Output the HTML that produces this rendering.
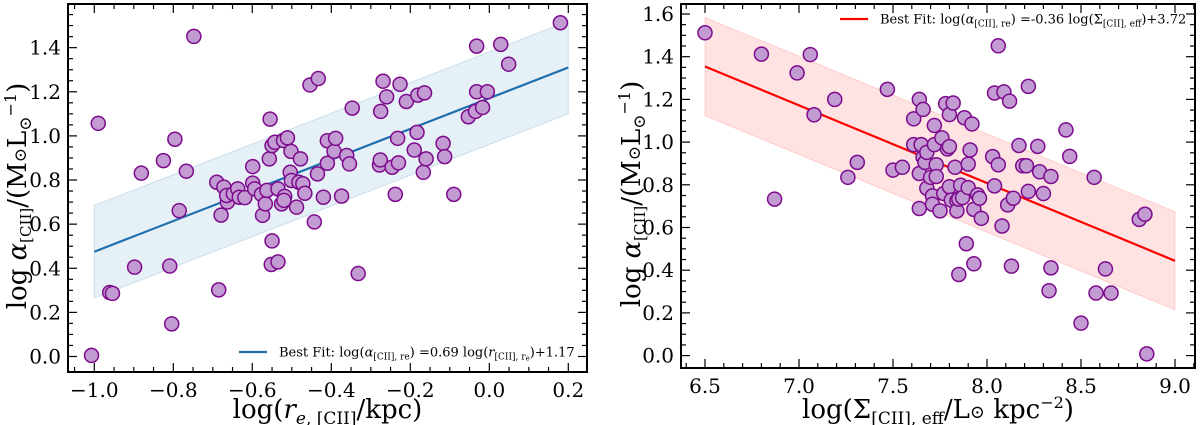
<!DOCTYPE html>
<html><head><meta charset="utf-8"><style>
html,body{margin:0;padding:0;background:#fff;}
svg{display:block;font-family:"DejaVu Serif","Liberation Serif",serif;}
</style></head><body>
<svg id="chart" width="1200" height="425" viewBox="0 0 1200 425" xmlns="http://www.w3.org/2000/svg"></svg>
<script>
// Left panel data
const leftX=[-1.007,-0.99,-0.961,-0.954,-0.898,-0.881,-0.825,-0.809,-0.804,-0.796,-0.785,-0.767,-0.748,-0.69,-0.685,-0.679,-0.672,-0.663,-0.665,-0.648,-0.637,-0.633,-0.619,-0.599,-0.599,-0.594,-0.577,-0.574,-0.567,-0.563,-0.557,-0.555,-0.55,-0.543,-0.55,-0.552,-0.535,-0.535,-0.521,-0.511,-0.526,-0.518,-0.52,-0.504,-0.502,-0.501,-0.488,-0.478,-0.482,-0.472,-0.467,-0.454,-0.443,-0.435,-0.433,-0.42,-0.41,-0.41,-0.393,-0.389,-0.374,-0.361,-0.354,-0.347,-0.332,-0.278,-0.276,-0.275,-0.269,-0.26,-0.246,-0.238,-0.232,-0.23,-0.226,-0.21,-0.19,-0.183,-0.181,-0.164,-0.167,-0.16,-0.117,-0.113,-0.09,-0.053,-0.035,-0.032,-0.032,-0.017,-0.005,0.029,0.049,0.18];
const leftY=[0.005,1.057,0.29,0.286,0.405,0.831,0.888,0.41,0.148,0.985,0.661,0.84,1.451,0.79,0.302,0.641,0.768,0.70,0.73,0.738,0.76,0.722,0.72,0.861,0.786,0.76,0.735,0.64,0.692,0.753,0.896,1.076,0.956,0.971,0.524,0.417,0.429,0.76,0.979,0.991,0.692,0.726,0.708,0.835,0.93,0.798,0.677,0.896,0.79,0.783,0.74,1.231,0.61,0.828,1.26,0.722,0.978,0.876,0.93,0.989,0.727,0.911,0.873,1.126,0.376,0.868,0.891,1.111,1.248,1.177,0.858,0.735,0.989,0.878,1.234,1.156,0.936,1.016,1.185,1.195,0.835,0.896,0.966,0.906,0.735,1.087,1.111,1.407,1.20,1.129,1.20,1.415,1.325,1.513];
const leftFit=[0.696,1.171,0.21]; // slope, intercept, band half-width
const leftXTicks=[-1.0,-0.8,-0.6,-0.4,-0.2,0.0,0.2];
const leftYTicks=[0.0,0.2,0.4,0.6,0.8,1.0,1.2,1.4];
// Right panel data
const rightX=[6.50,6.80,7.06,6.99,7.08,7.19,6.87,7.26,7.31,7.47,7.50,7.55,7.61,7.64,7.66,7.61,7.65,7.64,7.64,7.66,7.67,7.68,7.68,7.71,7.71,7.70,7.72,7.72,7.73,7.73,7.75,7.76,7.77,7.78,7.79,7.80,7.80,7.80,7.82,7.81,7.83,7.84,7.84,7.85,7.85,7.86,7.87,7.88,7.89,7.90,7.90,7.91,7.92,7.93,7.93,7.95,7.96,7.97,8.03,8.04,8.04,8.06,8.06,8.08,8.09,8.11,8.12,8.13,8.14,8.17,8.19,8.21,8.22,8.22,8.27,8.28,8.30,8.33,8.34,8.34,8.42,8.44,8.50,8.57,8.58,8.63,8.66,8.81,8.84,8.85];
const rightY=[1.512,1.412,1.41,1.324,1.128,1.2,0.733,0.835,0.905,1.247,0.869,0.882,1.109,1.2,1.153,0.988,0.988,0.853,0.689,0.929,0.905,0.952,0.784,0.748,0.709,0.835,1.078,0.988,0.894,0.839,0.678,1.02,0.759,1.18,0.968,1.129,0.791,0.979,1.183,0.728,0.882,0.725,0.678,0.733,0.38,0.798,0.74,1.114,0.524,0.787,0.897,0.963,1.085,0.685,0.43,0.753,0.737,0.643,0.932,0.795,1.23,1.451,0.894,0.607,1.235,0.706,1.192,0.419,0.737,0.984,0.889,0.889,0.769,1.261,0.98,0.861,0.759,0.304,0.411,0.839,1.057,0.933,0.152,0.835,0.293,0.406,0.293,0.638,0.662,0.008];
const rightFit=[-0.364,3.72,0.23];
const rightXTicks=[6.5,7.0,7.5,8.0,8.5,9.0];
const rightYTicks=[0.0,0.2,0.4,0.6,0.8,1.0,1.2,1.4,1.6];

const NS="http://www.w3.org/2000/svg";
const svg=document.getElementById('chart');
function mk(tag,attrs,parent){const e=document.createElementNS(NS,tag);for(const k in attrs)e.setAttribute(k,attrs[k]);(parent||svg).appendChild(e);return e;}

function panel(cfg){
  const g=mk('g',{});
  
  
  const sx=v=>cfg.x0px+(v-cfg.x0)*cfg.xs;
  const sy=v=>cfg.y0px-v*cfg.ys;
  const L=cfg.L,R=cfg.R,T=cfg.T,B=cfg.B;
  const [m,b,w]=cfg.fit;const xa=cfg.fx[0],xb=cfg.fx[1];
  const band=mk('polygon',{points:`${sx(xa)},${sy(m*xa+b+w)} ${sx(xb)},${sy(m*xb+b+w)} ${sx(xb)},${sy(m*xb+b-w)} ${sx(xa)},${sy(m*xa+b-w)}`,fill:cfg.bandFill,stroke:cfg.bandStroke,'stroke-width':1},g);
  
  
  const ln=mk('line',{x1:sx(xa),y1:sy(m*xa+b),x2:sx(xb),y2:sy(m*xb+b),stroke:cfg.lineColor,'stroke-width':2.2},g);
  
  
  for(let i=0;i<cfg.xs_.length;i++){
    const c=mk('circle',{cx:sx(cfg.xs_[i]),cy:sy(cfg.ys_[i]),r:7,fill:'#c39bd3',stroke:'#7d0a8c','stroke-width':1.5},g);
    
    
  }
  const fr=mk('rect',{x:L,y:T,width:R-L,height:B-T,fill:'none',stroke:'#000','stroke-width':2},g);
  
  
  const tk=mk('g',{stroke:'#000','stroke-width':1.2},g);
  
  
  for(let k=Math.ceil((cfg.xlo)/cfg.xminor-1e-6);k*cfg.xminor<=cfg.xhi+1e-9;k++){
    const v=k*cfg.xminor,px=sx(v);if(px<L||px>R)continue;
    const major=cfg.xTicks.some(t=>Math.abs(t-v)<1e-6);const len=major?9:5;
    mk('line',{x1:px,y1:B,x2:px,y2:B-len},tk);mk('line',{x1:px,y1:T,x2:px,y2:T+len},tk);
  }
  for(let k=0;k*cfg.yminor<=cfg.yhi+1e-9;k++){
    const v=k*cfg.yminor,py=sy(v);if(py<T||py>B)continue;
    const major=cfg.yTicks.some(t=>Math.abs(t-v)<1e-6);const len=major?9:5;
    mk('line',{x1:L,y1:py,x2:L+len,y2:py},tk);mk('line',{x1:R,y1:py,x2:R-len,y2:py},tk);
  }
  cfg.xTicks.forEach(t=>{
    const e=mk('text',{x:sx(t),y:B+25,'text-anchor':'middle','font-size':20,fill:'#000'},g);
    e.textContent=(t<0?'\u2212':'')+Math.abs(t).toFixed(1);
    
    
  });
  cfg.yTicks.forEach(t=>{
    const e=mk('text',{x:L-7,y:sy(t)+7,'text-anchor':'end','font-size':20,fill:'#000'},g);
    e.textContent=t.toFixed(1);
    
    
  });
  const lg=mk('g',{},g);
  
  
  mk('line',{x1:cfg.leg[0],y1:cfg.leg[1],x2:cfg.leg[0]+28,y2:cfg.leg[1],stroke:cfg.lineColor,'stroke-width':2.2},lg);
  const lt=mk('text',{x:cfg.leg[0]+40,y:cfg.leg[1]+4.5,'font-size':13,fill:'#000'},lg);
  lt.innerHTML=cfg.legHtml;
  const xt=mk('text',{x:(L+R)/2,y:418,'text-anchor':'middle','font-size':26,fill:'#000'},g);
  xt.innerHTML=cfg.xTitle;
  
  
  const yt=mk('text',{x:0,y:0,'text-anchor':'middle','font-size':26,fill:'#000',transform:`translate(${cfg.ytx},${(T+B)/2+8}) rotate(-90)`},g);
  yt.innerHTML='log <tspan font-style="italic">α</tspan><tspan font-size="15" dy="5">[CII]</tspan><tspan dy="-5">/(M</tspan><tspan font-size="17">⊙</tspan>L<tspan font-size="17" dy="5">⊙</tspan><tspan font-size="16" dy="-15">−1</tspan><tspan dy="10">)</tspan>';
  
  
}

panel({name:'left-panel',L:68,R:587,T:4,B:372,x0:-1.0,x0px:94.3,xs:395,y0px:356.5,ys:220.6,
  xs_:leftX,ys_:leftY,fit:leftFit,fx:[-1.0,0.2],bandFill:'rgba(31,119,180,0.11)',bandStroke:'rgba(31,119,180,0.18)',lineColor:'#1f6fad',
  xTicks:leftXTicks,yTicks:leftYTicks,xminor:0.05,yminor:0.05,xlo:-1.1,xhi:0.3,yhi:1.7,
  leg:[239,352],legHtml:'Best Fit: log(<tspan font-style="italic">α</tspan><tspan font-size="9" dy="3">[CII], re</tspan><tspan dy="-3">) =0.69 log(</tspan><tspan font-style="italic">r</tspan><tspan font-size="9" dy="3">[CII], r</tspan><tspan font-size="7" dy="1">e</tspan><tspan dy="-4">)+1.17</tspan>',
  xTitle:'log(<tspan font-style="italic">r</tspan><tspan font-size="17" dy="6"><tspan font-style="italic">e</tspan>, [CII]</tspan><tspan dy="-6">/kpc)</tspan>',ytx:26});
panel({name:'right-panel',L:681,R:1195,T:4,B:368,x0:6.5,x0px:705,xs:188,y0px:355.6,ys:213.5,
  xs_:rightX,ys_:rightY,fit:rightFit,fx:[6.5,9.0],bandFill:'rgba(255,80,80,0.16)',bandStroke:'rgba(255,80,80,0.22)',lineColor:'#f00',
  xTicks:rightXTicks,yTicks:rightYTicks,xminor:0.1,yminor:0.05,xlo:6.3,xhi:9.2,yhi:1.7,
  leg:[840,19],legHtml:'Best Fit: log(<tspan font-style="italic">α</tspan><tspan font-size="9" dy="3">[CII], re</tspan><tspan dy="-3">) =-0.36 log(Σ</tspan><tspan font-size="9" dy="3">[CII], eff</tspan><tspan dy="-3">)+3.72</tspan>',
  xTitle:'log(Σ<tspan font-size="17" dy="6">[CII], eff</tspan><tspan dy="-6">/L</tspan><tspan font-size="18">⊙</tspan> kpc<tspan font-size="16" dy="-10">−2</tspan><tspan dy="10">)</tspan>',ytx:640});
</script>
</body></html>
